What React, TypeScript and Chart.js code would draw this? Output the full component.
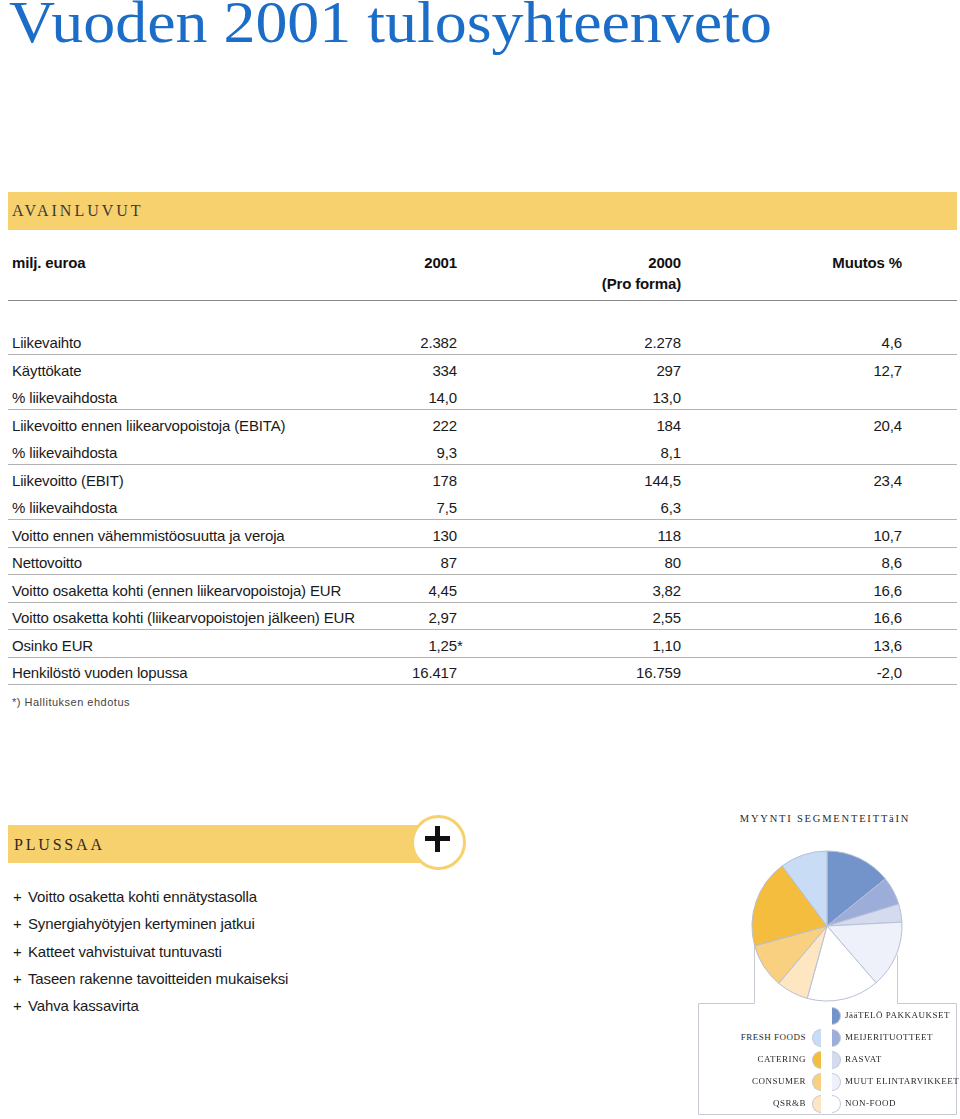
import React, { useEffect, useRef } from "react";
import { Chart, registerables } from "chart.js";

Chart.register(...registerables);

// ---------- DATA ----------
const tableLabels = [
  "Liikevaihto",
  "Käyttökate",
  "% liikevaihdosta",
  "Liikevoitto ennen liikearvopoistoja (EBITA)",
  "% liikevaihdosta",
  "Liikevoitto (EBIT)",
  "% liikevaihdosta",
  "Voitto ennen vähemmistöosuutta ja veroja",
  "Nettovoitto",
  "Voitto osaketta kohti (ennen liikearvopoistoja) EUR",
  "Voitto osaketta kohti (liikearvopoistojen jälkeen) EUR",
  "Osinko EUR",
  "Henkilöstö vuoden lopussa",
];
const values2001 = ["2.382", "334", "14,0", "222", "9,3", "178", "7,5", "130", "87", "4,45", "2,97", "1,25*", "16.417"];
const values2000 = ["2.278", "297", "13,0", "184", "8,1", "144,5", "6,3", "118", "80", "3,82", "2,55", "1,10", "16.759"];
const changePct = ["4,6", "12,7", "", "20,4", "", "23,4", "", "10,7", "8,6", "16,6", "16,6", "13,6", "-2,0"];
const ruleAfterRows = [0, 2, 4, 6, 7, 8, 9, 10, 11, 12];

const plusItems = [
  "Voitto osaketta kohti ennätystasolla",
  "Synergiahyötyjen kertyminen jatkui",
  "Katteet vahvistuivat tuntuvasti",
  "Taseen rakenne tavoitteiden mukaiseksi",
  "Vahva kassavirta",
];

const segmentLabels = [
  "JääTELÖ PAKKAUKSET",
  "MEIJERITUOTTEET",
  "RASVAT",
  "MUUT ELINTARVIKKEET",
  "NON-FOOD",
  "QSR&B",
  "CONSUMER",
  "CATERING",
  "FRESH FOODS",
];
const segmentShares = [14.2, 6.1, 3.9, 14.5, 15.6, 6.9, 9.6, 19.1, 10.2];
const segmentColors = [
  "#7394cb",
  "#9dadda",
  "#d5dbef",
  "#eef1f9",
  "#ffffff",
  "#fde6c1",
  "#f8d07f",
  "#f4bd3d",
  "#c9dcf5",
];
// legend columns (indices into segment arrays)
const legendRight = [0, 1, 2, 3, 4];
const legendLeft = [8, 7, 6, 5];

// ---------- STYLES ----------
const SANS = "'Liberation Sans Narrow', 'Arial Narrow', 'Liberation Sans', sans-serif";
const SERIF = "'Liberation Serif', 'Times New Roman', serif";
const YELLOW = "#f6d16e";

const abs = (l: number, t: number, extra: any = {}): any => ({ position: "absolute", left: l, top: t, ...extra });

function PieChart() {
  const ref = useRef<HTMLCanvasElement | null>(null);
  useEffect(() => {
    if (!ref.current) return;
    const chart = new Chart(ref.current, {
      type: "pie",
      data: {
        labels: segmentLabels,
        datasets: [
          {
            data: segmentShares,
            backgroundColor: segmentColors,
            borderColor: "#b7bfd6",
            borderWidth: 1,
          },
        ],
      },
      options: {
        responsive: false,
        animation: false,
        radius: 75,
        events: [],
        layout: { padding: 0 },
        plugins: { legend: { display: false }, tooltip: { enabled: false }, title: { display: false } },
      } as any,
    });
    return () => chart.destroy();
  }, []);
  return <canvas ref={ref} width={170} height={170} style={abs(742, 841)} />;
}

export default function App() {
  const rowY = (i: number) => 343 + i * 27.5;
  const textRow = (center: number, h = 20) => ({ top: center - h / 2, height: h, lineHeight: h + "px" });
  const body = { fontFamily: SANS, fontSize: 15, letterSpacing: -0.15, color: "#1a1a1a" };

  return (
    <div style={{ position: "absolute", left: 0, top: 0, width: 960, height: 1119, background: "#fff", overflow: "hidden" }}>
      {/* Title */}
      <div
        style={abs(9, 0, {
          fontFamily: SERIF,
          fontSize: 60,
          lineHeight: "44px",
          height: 56,
          color: "#1b6dc7",
          whiteSpace: "nowrap",
          transform: "scaleX(1.065)",
          transformOrigin: "left top",
        })}
      >
        Vuoden 2001 tulosyhteenveto
      </div>

      {/* AVAINLUVUT bar */}
      <div style={abs(8, 192, { width: 949, height: 38, background: YELLOW })} />
      <div style={abs(12, 201, { fontFamily: SERIF, fontSize: 16, lineHeight: "20px", letterSpacing: 3, color: "#3a3a3a" })}>
        AVAINLUVUT
      </div>

      {/* Header */}
      <div style={abs(12, 0, { ...textRow(263), ...body, fontWeight: "bold", color: "#111" })}>milj. euroa</div>
      <div style={abs(357, 0, { ...textRow(263), ...body, width: 100, textAlign: "right", fontWeight: "bold", color: "#111" })}>2001</div>
      <div style={abs(531, 0, { ...textRow(263), ...body, width: 150, textAlign: "right", fontWeight: "bold", color: "#111" })}>2000</div>
      <div style={abs(531, 0, { ...textRow(284), ...body, width: 150, textAlign: "right", fontWeight: "bold", color: "#111" })}>(Pro forma)</div>
      <div style={abs(752, 0, { ...textRow(263), ...body, width: 150, textAlign: "right", fontWeight: "bold", color: "#111" })}>Muutos %</div>
      <div style={abs(8, 300, { width: 949, height: 1, background: "#8a8a8a" })} />

      {/* Table rows */}
      {tableLabels.map((label, i) => {
        const c = rowY(i);
        const v1 = values2001[i];
        const star = v1.endsWith("*");
        const v1core = star ? v1.slice(0, -1) : v1;
        return (
          <React.Fragment key={i}>
            <div style={abs(12, 0, { ...textRow(c), ...body, whiteSpace: "nowrap" })}>{label}</div>
            <div style={abs(337, 0, { ...textRow(c), ...body, width: 120, textAlign: "right" })}>
              {v1core}
              {star ? <span style={{ position: "absolute", left: "100%" }}>*</span> : null}
            </div>
            <div style={abs(561, 0, { ...textRow(c), ...body, width: 120, textAlign: "right" })}>{values2000[i]}</div>
            <div style={abs(782, 0, { ...textRow(c), ...body, width: 120, textAlign: "right" })}>{changePct[i]}</div>
            {ruleAfterRows.includes(i) ? <div style={abs(8, c + 11, { width: 949, height: 1, background: "#b3b3b3" })} /> : null}
          </React.Fragment>
        );
      })}

      {/* Footnote */}
      <div style={abs(12, 0, { ...textRow(702, 16), fontFamily: "'Liberation Sans', sans-serif", fontSize: 11, letterSpacing: 0.5, color: "#444" })}>
        *) Hallituksen ehdotus
      </div>

      {/* PLUSSAA bar */}
      <div style={abs(8, 825, { width: 420, height: 38, background: YELLOW })} />
      <div style={abs(411, 815, { width: 49, height: 49, borderRadius: "50%", border: `3px solid ${YELLOW}`, background: "#fff" })} />
      <div style={abs(423, 825, { width: 30, height: 30 })}>
        <div style={abs(12, 1, { width: 5, height: 26, background: "#111" })} />
        <div style={abs(2, 11, { width: 25, height: 5, background: "#111" })} />
      </div>
      <div style={abs(14, 0, { ...textRow(845), fontFamily: SERIF, fontSize: 16, letterSpacing: 2.8, color: "#2a2a2a" })}>PLUSSAA</div>

      {plusItems.map((t, i) => (
        <React.Fragment key={"p" + i}>
          <div style={abs(13, 0, { ...textRow(897 + i * 27.3), ...body })}>+</div>
          <div style={abs(28, 0, { ...textRow(897 + i * 27.3), ...body, whiteSpace: "nowrap" })}>{t}</div>
        </React.Fragment>
      ))}

      {/* Pie title */}
      <div style={abs(700, 0, { ...textRow(819, 16), width: 250, textAlign: "center", fontFamily: SERIF, fontSize: 10.5, letterSpacing: 1.8, color: "#2a2a2a", whiteSpace: "nowrap" })}>
        MYYNTI SEGMENTEITTäIN
      </div>

      {/* Legend box & connectors */}
      <svg width={960} height={1119} style={abs(0, 0, { pointerEvents: "none" })}>
        <path
          d="M754.5 943 L754.5 1003.5 L698.5 1003.5 L698.5 1114.5 L956.5 1114.5 L956.5 1003.5 L897.5 1003.5 L897.5 955"
          fill="none"
          stroke="#c6cad3"
          strokeWidth={1}
        />
      </svg>

      <PieChart />

      {legendRight.map((idx, r) => {
        const c = 1015 + r * 22;
        return (
          <React.Fragment key={"r" + idx}>
            <div style={abs(832, c - 8.5, { width: 8, height: 16, borderRadius: "0 9px 9px 0", border: "1px solid #c3c9d8", borderLeft: "none", background: segmentColors[idx] })} />
            <div style={abs(845, 0, { ...textRow(c, 14), fontFamily: SERIF, fontSize: 9, letterSpacing: 0.5, color: "#2a2a2a", whiteSpace: "nowrap" })}>
              {segmentLabels[idx]}
            </div>
          </React.Fragment>
        );
      })}
      {legendLeft.map((idx, r) => {
        const c = 1037 + r * 22;
        return (
          <React.Fragment key={"l" + idx}>
            <div style={abs(812, c - 8.5, { width: 8, height: 16, borderRadius: "9px 0 0 9px", border: "1px solid #c3c9d8", borderRight: "none", background: segmentColors[idx] })} />
            <div style={abs(656, 0, { ...textRow(c, 14), width: 150, textAlign: "right", fontFamily: SERIF, fontSize: 9, letterSpacing: 0.5, color: "#2a2a2a", whiteSpace: "nowrap" })}>
              {segmentLabels[idx]}
            </div>
          </React.Fragment>
        );
      })}
    </div>
  );
}
